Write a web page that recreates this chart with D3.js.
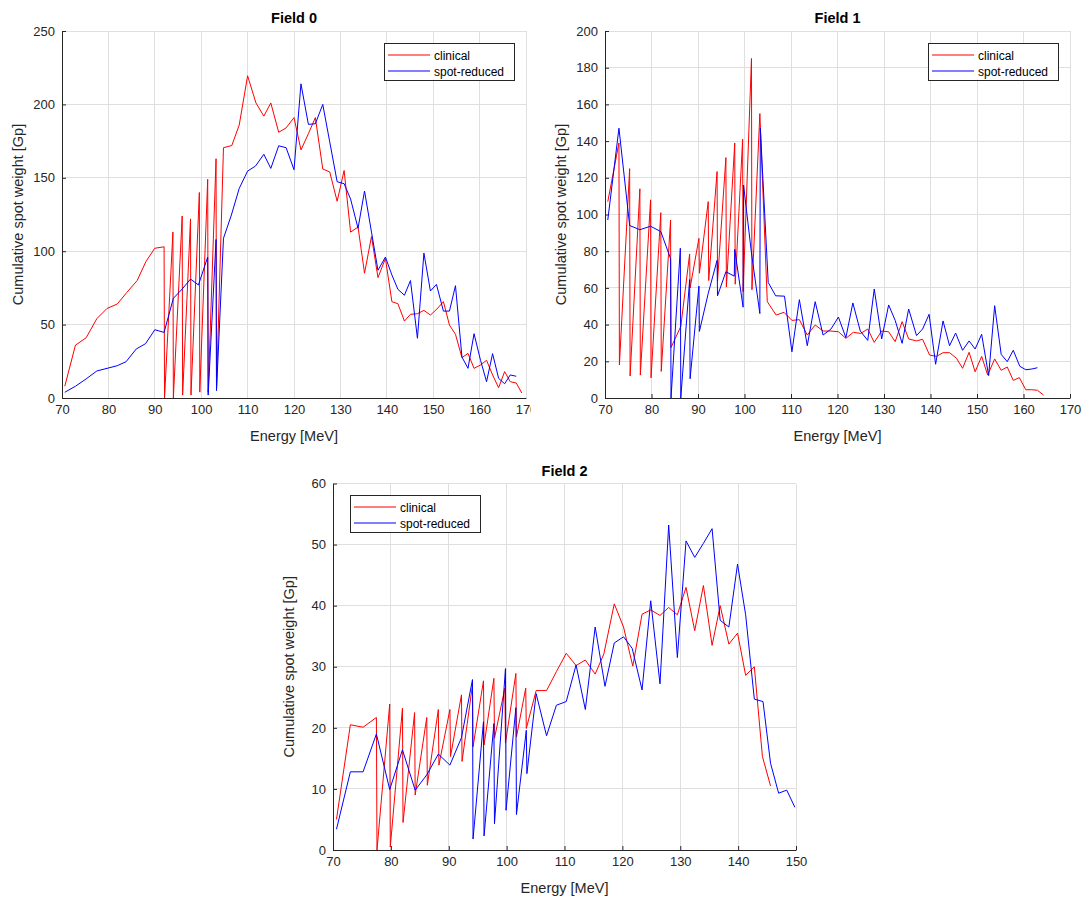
<!DOCTYPE html>
<html>
<head>
<meta charset="utf-8">
<script src="https://cdn.jsdelivr.net/npm/d3@7"></script>
<style>
  body { margin: 0; background: #fff; }
  svg { font-family: "Liberation Sans", Arial, sans-serif; }
</style>
</head>
<body>
<div id="chart"></div>
<script>
(function () {
  "use strict";

  // [energy MeV, cumulative spot weight Gp] per series
  const field0Clinical = [
    [70.6, 8], [72.9, 36], [75.2, 41], [77.5, 54], [79.7, 61], [81.9, 64], [84, 72], [86.2, 80],
    [88.1, 93], [90, 102], [92, 103], [92.1, 0], [93.9, 113], [94, 0], [95.9, 124], [96, 2],
    [97.7, 122], [97.8, 2], [99.6, 140], [99.7, 4], [101.4, 149], [101.5, 4], [103.2, 163], [103.3, 6],
    [104.8, 170.5], [106.6, 172], [108.2, 186], [110, 219.5], [111.8, 201], [113.5, 192], [115, 201],
    [116.7, 181], [118.3, 184], [120, 191], [121.5, 169], [123.1, 180], [124.6, 191], [126.2, 156],
    [127.7, 154], [129.3, 134], [130.8, 155], [132.2, 113], [133.8, 116.5], [135.2, 85], [136.7, 110],
    [138.1, 82], [139.7, 95], [141.1, 65.6], [142.4, 64.2], [143.8, 52.4], [145.1, 57], [146.6, 57.4],
    [148, 59.7], [149.4, 56.5], [150.8, 60.6], [152.2, 65.6], [153.5, 49.7], [154.8, 43.4], [156.2, 27.5],
    [157.5, 30.4], [158.8, 20.2], [160.2, 22.5], [161.5, 25.7], [162.8, 15.7], [164.1, 7], [165.4, 18],
    [166.6, 11.1], [167.9, 10.2], [169.1, 3.4]
  ];
  const field0Reduced = [
    [70.6, 3.9], [72.9, 8], [75.2, 13], [77.5, 18.4], [79.7, 20.2], [81.9, 22], [83.8, 24.7], [86, 33.4],
    [88, 37], [90, 46.5], [92, 44.7], [94, 67.9], [95.9, 74.2], [97.7, 81], [99.4, 77], [101.4, 96],
    [101.5, 2], [103.2, 108], [103.3, 5], [104.8, 108.8], [106.5, 124.6], [108.2, 142.8], [110, 154.6],
    [111.7, 158], [113.5, 166], [115, 156.4], [116.7, 171.8], [118.3, 170.5], [120, 155.5], [121.5, 214],
    [123.1, 186.4], [124.6, 186.8], [126.2, 200], [127.7, 174.5], [129.3, 147.3], [130.8, 146],
    [132.2, 135.5], [133.8, 115.6], [135.2, 141], [136.7, 113], [138.1, 87], [139.7, 96], [141.1, 83.8],
    [142.4, 74], [143.8, 70], [145.1, 80], [146.6, 40.7], [148, 98.7], [149.4, 72.9], [150.7, 77.4],
    [152.2, 59.2], [153.5, 59.2], [154.8, 76.5], [156.2, 27.9], [157.5, 20.2], [158.8, 43.8],
    [160.2, 25.7], [161.5, 11.1], [162.8, 30.2], [164.1, 13.4], [165.4, 9.7], [166.6, 15.7], [167.9, 14.8]
  ];

  const field1Clinical = [
    [70.6, 107], [73, 139], [73.1, 18], [75.3, 125], [75.4, 12], [77.5, 114], [77.6, 12.5], [79.8, 108],
    [79.9, 11], [82, 101], [82.1, 14.5], [84.1, 97], [84.2, 27.5], [86.3, 39], [88.2, 78.5], [88.3, 60],
    [90.2, 87], [90.3, 68], [92.2, 107], [92.3, 64], [94.1, 123.4], [94.2, 63.7], [96, 131], [96.1, 60.5],
    [97.9, 139], [98, 62], [99.6, 141], [99.7, 58], [101.5, 185], [101.6, 59], [103.3, 155], [104.9, 52.5],
    [106.8, 45.2], [108.5, 46.7], [110.2, 42.3], [111.8, 42.7], [113.5, 34.3], [115.2, 39.8], [116.9, 36.5],
    [118.6, 36.5], [120.2, 36.1], [121.8, 32.5], [123.4, 35.8], [125, 35.2], [126.5, 37.6], [127.9, 30.3],
    [129.5, 36.5], [131, 36.1], [132.4, 30.7], [133.9, 41.6], [135.3, 32.2], [137, 31.1], [138.3, 32],
    [139.8, 23.4], [141.3, 22.7], [142.7, 24.7], [144.1, 24.7], [145.6, 21.6], [146.9, 16.2], [148.3, 24.9],
    [149.6, 14.3], [151, 22.7], [152.3, 12.5], [153.8, 21.3], [155.2, 15.1], [156.5, 16.9], [157.8, 9.6],
    [159.1, 11.1], [160.5, 4.5], [161.8, 4.5], [163, 4.2], [164.3, 1.6]
  ];
  const field1Reduced = [
    [70.6, 97], [73, 147], [75.3, 94], [77.5, 91.7], [79.8, 93.6], [82, 90.7], [84.1, 76], [84.2, 0],
    [86.2, 81.6], [86.3, 0], [88.2, 64.5], [88.3, 10.5], [90.2, 61], [90.3, 36.3], [92.2, 57], [94.1, 75],
    [94.2, 55.7], [96, 68.8], [97.8, 66.4], [97.9, 81], [99.7, 49.5], [99.8, 116], [101.5, 79], [103.3, 46],
    [103.4, 147], [105.1, 63], [106.7, 55.7], [108.6, 55.5], [110.2, 25.2], [111.8, 53.6], [113.5, 28.5],
    [115.2, 52.5], [116.9, 34.3], [118.6, 37.6], [120.2, 44.1], [121.8, 32.9], [123.3, 51.8], [124.9, 36.5],
    [126.5, 31.4], [127.9, 59.4], [129.5, 32.2], [131, 50.7], [132.4, 42.3], [133.9, 29.8], [135.3, 48.5],
    [137, 34], [138.3, 37.6], [139.7, 45.6], [141.1, 18.4], [142.7, 42], [144.1, 28.5], [145.4, 35.4],
    [146.9, 26], [148.3, 31.1], [149.6, 26.7], [151, 34.7], [152.5, 12.2], [153.8, 50.3], [155.2, 23.8],
    [156.5, 19.8], [157.8, 26], [159.2, 17.3], [160.5, 15.4], [161.8, 15.8], [163, 16.5]
  ];

  const field2Clinical = [
    [70.6, 5], [73, 20.5], [75.2, 20.1], [77.5, 21.7], [77.6, 0], [79.8, 23.9], [79.9, 0.5], [82, 23.2],
    [82.1, 4.5], [84.1, 22.5], [84.2, 9], [86.2, 21.7], [86.3, 10.6], [88.2, 23], [88.3, 13.9], [90.2, 23],
    [90.3, 15.3], [92.2, 25.4], [92.3, 14.5], [94.1, 27], [94.2, 16.9], [96, 27.7], [96.1, 17.2],
    [97.8, 28.1], [97.9, 18.3], [99.7, 26.5], [99.8, 17.5], [101.6, 28.9], [101.7, 18.5], [103.3, 26.5],
    [103.4, 19.9], [105.1, 26.1], [106.9, 26.1], [108.6, 29.2], [110.3, 32.2], [112, 30.2], [113.6, 31.1],
    [115.3, 28.8], [116.8, 32.1], [118.6, 40.3], [120.2, 36.5], [121.8, 30.1], [123.4, 38.6], [124.9, 39.3],
    [126.5, 38.4], [128, 39.7], [129.5, 38.5], [131, 43], [132.5, 35.9], [134, 43.3], [135.5, 33.5],
    [136.9, 40], [138.4, 33.7], [139.9, 35.5], [141.3, 28.6], [142.8, 30], [144.2, 15.3], [145.6, 10.5]
  ];
  const field2Reduced = [
    [70.6, 3.4], [73, 12.8], [75.2, 12.8], [77.5, 19], [79.8, 9.9], [82, 16.4], [84.2, 9.8], [86.2, 12.3],
    [88.2, 15.7], [90.2, 13.9], [92.2, 18.4], [94.1, 27.9], [94.2, 1.8], [96, 21], [96.1, 2.3], [97.8, 20.7],
    [97.9, 4.3], [99.8, 29.7], [99.9, 6.5], [101.6, 23.3], [101.7, 5.8], [103.4, 19.6], [103.5, 12.5],
    [105.1, 25.6], [106.9, 18.7], [108.6, 23.7], [110.3, 24.3], [112, 30.3], [113.6, 23], [115.3, 36.5],
    [117, 26.8], [118.6, 33.9], [120.2, 34.9], [121.7, 33], [123.4, 26.2], [124.9, 40.8], [126.5, 27.2],
    [128, 53.2], [129.5, 31.5], [131, 50.6], [132.5, 47.9], [134, 50.2], [135.5, 52.6], [136.9, 37.6],
    [138.4, 36.5], [139.9, 46.8], [141.3, 38.5], [142.8, 24.7], [144.3, 24.3], [145.6, 14.2], [147, 9.3],
    [148.4, 9.8], [149.8, 7]
  ];

  // tick values
  const xTicksWide = [70, 80, 90, 100, 110, 120, 130, 140, 150, 160, 170];
  const xTicksNarrow = [70, 80, 90, 100, 110, 120, 130, 140, 150];
  const yTicks0 = [0, 50, 100, 150, 200, 250];
  const yTicks1 = [0, 20, 40, 60, 80, 100, 120, 140, 160, 180, 200];
  const yTicks2 = [0, 10, 20, 30, 40, 50, 60];
  const seriesNames = ["clinical", "spot-reduced"];
  const seriesColors = ["#ff0000", "#0000ff"];

  const width = 1089;
  const height = 900;
  const textColor = "#262626";
  const gridColor = "#dfdfdf";

  const svg = d3.select("#chart").append("svg")
    .attr("width", width)
    .attr("height", height);

  // one subplot
  function drawField(cfg) {
    const x = d3.scaleLinear().domain(cfg.xDomain).range([cfg.left, cfg.right]);
    const y = d3.scaleLinear().domain(cfg.yDomain).range([cfg.bottom, cfg.top]);
    const g = svg.append("g");
    const clipId = "clip-" + cfg.id;

    g.append("clipPath").attr("id", clipId)
      .append("rect")
      .attr("x", cfg.left).attr("y", cfg.top)
      .attr("width", cfg.right - cfg.left).attr("height", cfg.bottom - cfg.top);

    // grid
    g.append("g").selectAll("line")
      .data(cfg.xTicks)
      .join("line")
      .attr("x1", (d) => x(d)).attr("x2", (d) => x(d))
      .attr("y1", cfg.top).attr("y2", cfg.bottom)
      .attr("stroke", gridColor).attr("stroke-width", 1)
      .attr("shape-rendering", "crispEdges");
    g.append("g").selectAll("line")
      .data(cfg.yTicks)
      .join("line")
      .attr("x1", cfg.left).attr("x2", cfg.right)
      .attr("y1", (d) => y(d)).attr("y2", (d) => y(d))
      .attr("stroke", gridColor).attr("stroke-width", 1)
      .attr("shape-rendering", "crispEdges");

    // series lines
    const line = d3.line().x((d) => x(d[0])).y((d) => y(d[1]));
    cfg.series.forEach((s, i) => {
      g.append("path")
        .attr("clip-path", `url(#${clipId})`)
        .attr("d", line(s))
        .attr("fill", "none")
        .attr("stroke", seriesColors[i])
        .attr("stroke-width", 1)
        .attr("stroke-linejoin", "round");
    });

    // axes, ticks pointing inward
    const xAxis = g.append("g")
      .attr("transform", `translate(0,${cfg.bottom})`)
      .call(d3.axisBottom(x).tickValues(cfg.xTicks).tickSizeInner(-4).tickSizeOuter(0).tickPadding(7));
    const yAxis = g.append("g")
      .attr("transform", `translate(${cfg.left},0)`)
      .call(d3.axisLeft(y).tickValues(cfg.yTicks).tickSizeInner(-4).tickSizeOuter(0).tickPadding(7));
    [xAxis, yAxis].forEach((a) => {
      a.select(".domain").attr("stroke", textColor);
      a.selectAll(".tick line").attr("stroke", textColor);
      a.selectAll(".tick text")
        .attr("fill", textColor)
        .attr("font-size", 13)
        .attr("font-family", "\"Liberation Sans\", Arial, sans-serif");
    });
    // the figure is cropped through the last tick label of Field 0
    if (cfg.clipRight) {
      g.append("clipPath").attr("id", clipId + "-x")
        .append("rect").attr("x", 0).attr("y", 0).attr("width", cfg.clipRight).attr("height", height);
      xAxis.attr("clip-path", `url(#${clipId}-x)`);
    }

    // title and labels
    const cx = (cfg.left + cfg.right) / 2;
    const cy = (cfg.top + cfg.bottom) / 2;
    g.append("text")
      .attr("x", cx).attr("y", cfg.top - 8)
      .attr("text-anchor", "middle")
      .attr("font-size", 14.5).attr("font-weight", "bold")
      .attr("fill", "#000")
      .text(cfg.title);
    g.append("text")
      .attr("x", cx).attr("y", cfg.bottom + 43)
      .attr("text-anchor", "middle")
      .attr("font-size", 14.5)
      .attr("fill", textColor)
      .text("Energy [MeV]");
    g.append("text")
      .attr("transform", `translate(${cfg.left - 39},${cy}) rotate(-90)`)
      .attr("text-anchor", "middle")
      .attr("font-size", 14.5)
      .attr("fill", textColor)
      .text("Cumulative spot weight [Gp]");

    // legend
    const lg = g.append("g").attr("transform", `translate(${cfg.legend[0]},${cfg.legend[1]})`);
    lg.append("rect")
      .attr("x", 0.5).attr("y", 0.5)
      .attr("width", 130).attr("height", 37)
      .attr("fill", "#fff")
      .attr("stroke", textColor).attr("stroke-width", 1);
    seriesNames.forEach((name, i) => {
      const ry = 12 + i * 16;
      lg.append("line")
        .attr("x1", 4).attr("x2", 46)
        .attr("y1", ry).attr("y2", ry)
        .attr("stroke", seriesColors[i]).attr("stroke-width", 1.2);
      lg.append("text")
        .attr("x", 50).attr("y", ry + 4.5)
        .attr("font-size", 12)
        .attr("fill", "#000")
        .text(name);
    });
  }

  drawField({
    id: "f0", title: "Field 0",
    left: 62, right: 526, top: 31, bottom: 398,
    xDomain: [70, 170], yDomain: [0, 250],
    xTicks: xTicksWide, yTicks: yTicks0,
    series: [field0Clinical, field0Reduced],
    legend: [384, 43],
    clipRight: 531
  });
  drawField({
    id: "f1", title: "Field 1",
    left: 605, right: 1070, top: 31, bottom: 398,
    xDomain: [70, 170], yDomain: [0, 200],
    xTicks: xTicksWide, yTicks: yTicks1,
    series: [field1Clinical, field1Reduced],
    legend: [928, 43]
  });
  drawField({
    id: "f2", title: "Field 2",
    left: 333, right: 796, top: 483.5, bottom: 850,
    xDomain: [70, 150], yDomain: [0, 60],
    xTicks: xTicksNarrow, yTicks: yTicks2,
    series: [field2Clinical, field2Reduced],
    legend: [350, 495]
  });
})();
</script>
</body>
</html>
